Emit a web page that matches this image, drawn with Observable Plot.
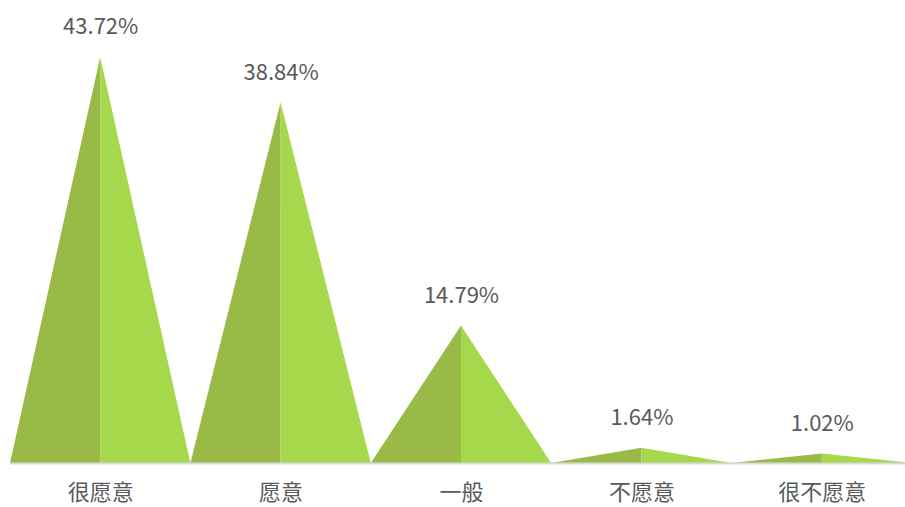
<!DOCTYPE html>
<html>
<head>
<meta charset="utf-8">
<script src="https://cdn.jsdelivr.net/npm/d3@7"></script>
<script src="https://cdn.jsdelivr.net/npm/@observablehq/plot@0.6"></script>
<style>
  html, body { margin: 0; padding: 0; background: #ffffff; }
  #chart { width: 905px; height: 507px; overflow: hidden; }
</style>
</head>
<body>
<div id="chart"></div>
<script>
const categories = ["很愿意", "愿意", "一般", "不愿意", "很不愿意"];
const values = [43.72, 38.84, 14.79, 1.64, 1.02];
const valueLabels = ["43.72%", "38.84%", "14.79%", "1.64%", "1.02%"];

const darkGreen = "#9aba48";
const lightGreen = "#a5d84b";

// Build triangle halves from the values (left half dark, right half light)
const halves = [];
values.forEach((v, i) => {
  halves.push({ key: i + "L", side: "L", x: i - 0.5, y: 0 });
  halves.push({ key: i + "L", side: "L", x: i, y: v });
  halves.push({ key: i + "R", side: "R", x: i, y: v });
  halves.push({ key: i + "R", side: "R", x: i + 0.5, y: 0 });
});
const labelData = values.map((v, i) => ({ i, v, label: valueLabels[i] }));

const chart = Plot.plot({
  width: 905,
  height: 507,
  marginLeft: 10,
  marginRight: 0,
  marginTop: 45,
  marginBottom: 44,
  style: { fontFamily: "'Noto Sans CJK SC', 'Noto Sans', sans-serif", background: "#ffffff" },
  x: { type: "linear", domain: [-0.5, 4.5], range: [10, 912], axis: null },
  y: { domain: [0, 45], axis: null },
  marks: [
    Plot.area(halves, {
      x1: "x", y1: "y", y2: 0, z: "key",
      fill: d => d.side === "L" ? darkGreen : lightGreen,
      curve: "linear"
    }),
    Plot.ruleY([0], { stroke: "#d9d9d9", strokeWidth: 2 }),
    Plot.axisX({
      ticks: d3.range(categories.length),
      tickFormat: i => categories[i],
      tickSize: 0,
      tickPadding: 21,
      fontSize: 22,
      color: "#595959",
      label: null
    }),
    Plot.text(labelData, {
      x: "i", y: "v", text: "label",
      dy: -30, lineAnchor: "middle",
      fontSize: 22, fill: "#595959"
    })
  ]
});
document.getElementById("chart").appendChild(chart);
</script>
</body>
</html>
